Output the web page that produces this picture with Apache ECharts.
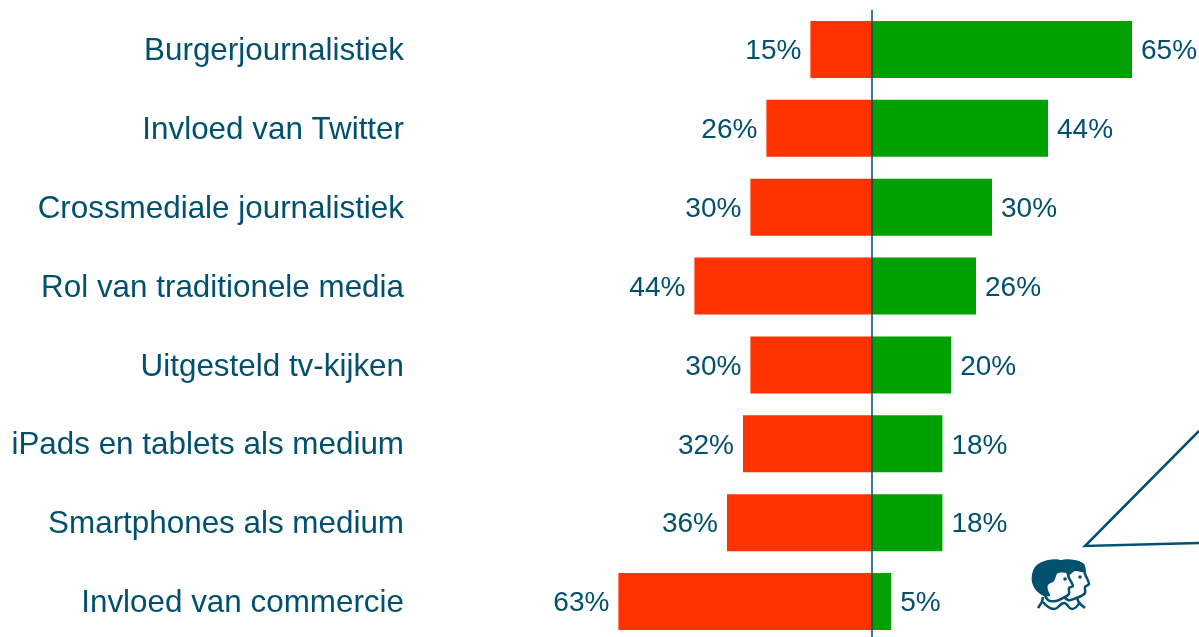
<!DOCTYPE html>
<html><head><meta charset="utf-8">
<style>html,body{margin:0;padding:0;background:#fff;width:1199px;height:637px;overflow:hidden}#c{width:1199px;height:642px}</style>
<script src="https://cdn.jsdelivr.net/npm/echarts@6/dist/echarts.min.js"></script>
</head><body><div id="c"></div>
<script>
const categories = ["Burgerjournalistiek","Invloed van Twitter","Crossmediale journalistiek","Rol van traditionele media","Uitgesteld tv-kijken","iPads en tablets als medium","Smartphones als medium","Invloed van commercie"];
const negative = [15.4,26.4,30.4,44.4,30.4,32.25,36.25,63.4];
const positive = [65,44,30,26,19.8,17.6,17.6,4.8];
const ink = "#00506e", red = "#ff3300", green = "#00a000";
const pct = p => Math.round(Math.abs(p.value)) + "%";
const lab = pos => ({show:true,position:pos,distance:9,offset:[0,2],color:ink,fontSize:28,fontFamily:"Liberation Sans",formatter:pct});
const chart = echarts.init(document.getElementById("c"),null,{renderer:"canvas"});
chart.setOption({
  animation:false,
  grid:{left:412,top:10,width:787,height:631,containLabel:false},
  xAxis:{type:"value",min:-115,max:81.75,show:false},
  yAxis:{type:"category",inverse:true,data:categories,
    axisLine:{show:false,onZero:false},axisTick:{show:false},
    axisLabel:{margin:8,formatter:v=>"{a|"+v+"}",
      rich:{a:{color:ink,fontSize:31.4,fontFamily:"Liberation Sans",padding:[4,0,0,0]}}}},
  series:[
    {type:"bar",stack:"t",barWidth:57,data:negative.map(v=>-v),itemStyle:{color:red},label:lab("left")},
    {type:"bar",stack:"t",barWidth:57,data:positive,itemStyle:{color:green},label:lab("right"),
     markLine:{silent:true,symbol:"none",label:{show:false},z:10,
       lineStyle:{color:ink,width:1.5,type:"solid"},data:[{xAxis:0}]}}
  ],
  graphic:[
    {type:"polyline",silent:true,shape:{points:[[1199,431],[1085,546],[1199,543]]},
      style:{stroke:ink,lineWidth:2.5,fill:null}},
    // back head
    {type:"polygon",silent:true,shape:{smooth:0.3,points:[[1062,562],[1073,561],[1083,565],[1085,574],[1089,584],[1085,587],[1085,593],[1079,597],[1068,600],[1060,590],[1060,575]]},
      style:{fill:"#fff",stroke:ink,lineWidth:2.5}},
    {type:"polygon",silent:true,shape:{smooth:0.3,points:[[1058,561],[1073,560],[1084,564],[1085,572],[1075,571],[1069,575],[1064,570]]},
      style:{fill:ink}},
    // front head
    {type:"polygon",silent:true,shape:{smooth:0.3,points:[[1052,570],[1066,570],[1069,578],[1073,586],[1069,588],[1069,594],[1063,598],[1056,601],[1048,600],[1044,590]]},
      style:{fill:"#fff",stroke:ink,lineWidth:2.5}},
    {type:"polygon",silent:true,shape:{smooth:0.35,points:[[1032,582],[1035,567],[1048,560],[1063,561],[1069,572],[1058,573],[1054,581],[1048,585],[1048,590],[1050,596],[1040,594]]},
      style:{fill:ink}},
    {type:"polyline",silent:true,shape:{points:[[1043,597],[1042,602],[1038,608]]},style:{stroke:ink,lineWidth:2.5,fill:null}},
    {type:"polyline",silent:true,shape:{smooth:0.5,points:[[1043,602],[1054,609],[1064,603],[1072,609],[1080,602]]},style:{stroke:ink,lineWidth:2.5,fill:null}},
    {type:"polyline",silent:true,shape:{points:[[1077,598],[1079,603],[1085,608]]},style:{stroke:ink,lineWidth:2.5,fill:null}},
    {type:"circle",silent:true,shape:{cx:1065,cy:579,r:1.8},style:{fill:ink}},
    {type:"circle",silent:true,shape:{cx:1080,cy:577,r:1.8},style:{fill:ink}}
  ]
});
</script></body></html>
